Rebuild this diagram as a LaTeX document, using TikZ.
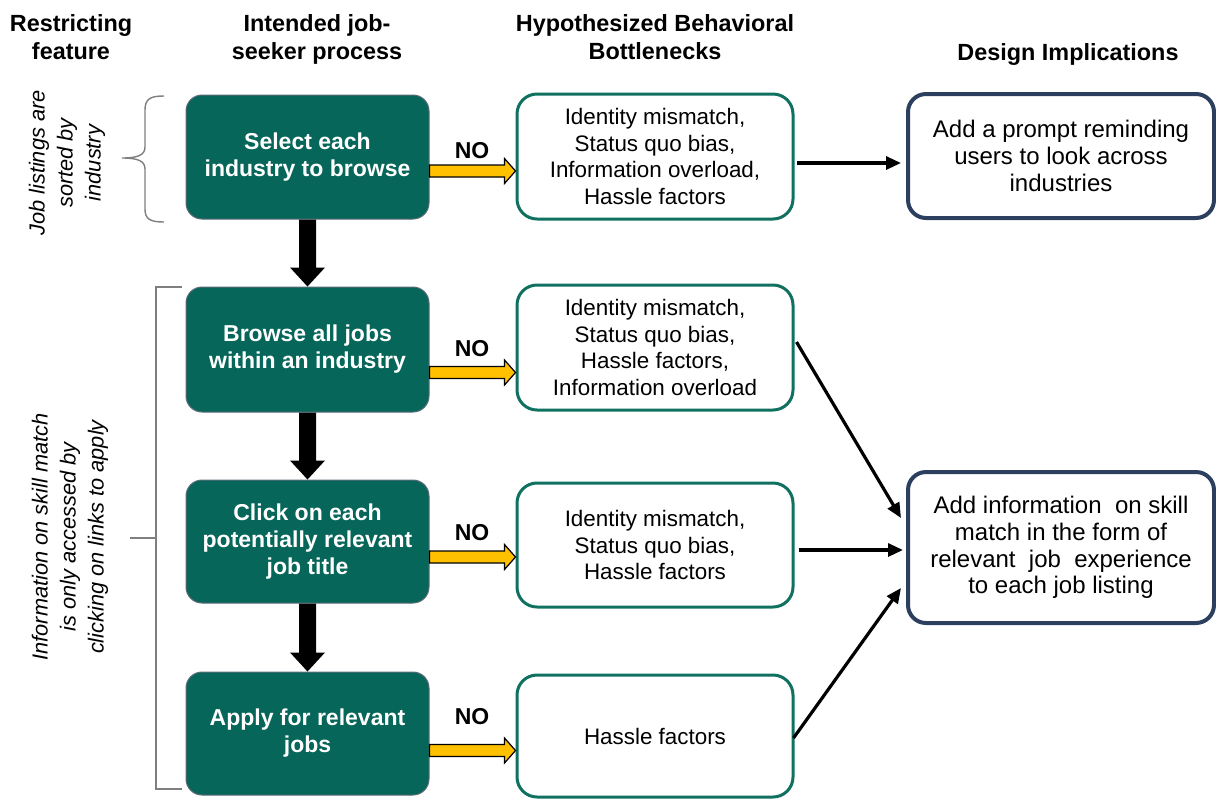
\documentclass[tikz,border=0pt]{standalone}
\usepackage{fontspec}
\setmainfont{Liberation Sans}
\usetikzlibrary{calc,arrows.meta}

\definecolor{procgreen}{HTML}{07665A}
\definecolor{procedge}{HTML}{5B6B78}
\definecolor{bneck}{HTML}{107161}
\definecolor{navy}{HTML}{2C3F5E}
\definecolor{yarrow}{HTML}{FFC000}
\definecolor{bracegray}{HTML}{7F7F7F}

% yellow "NO" block arrow from #1 to the tip #2
\newcommand\noarrow[2]{%
  \filldraw[fill=yarrow, draw=black, line width=0.6pt, line join=miter]
    ($(#1)+(0,-6)$) -- ($(#2)+(-11,-6)$) -- ($(#2)+(-11,-12.5)$) -- (#2)
    -- ($(#2)+(-11,12.5)$) -- ($(#2)+(-11,6)$) -- ($(#1)+(0,6)$) -- cycle;}
% thick black block arrow pointing down from #1 to the tip #2
\newcommand\flowarrow[2]{%
  \fill ($(#1)+(-8.5,0)$) -- ($(#2)+(-8.5,-19)$) -- ($(#2)+(-17.5,-19)$) -- (#2)
    -- ($(#2)+(17.5,-19)$) -- ($(#2)+(8.5,-19)$) -- ($(#1)+(8.5,0)$) -- cycle;}

\begin{document}
\begin{tikzpicture}[x=0.5pt,y=-0.5pt,
  head/.style={font=\fontsize{11.7}{14}\selectfont\bfseries, align=center, anchor=base, inner sep=0pt},
  proc/.style={rectangle, rounded corners=8pt, fill=procgreen, draw=procedge, line width=0.5pt,
    text=white, font=\fontsize{11.5}{13.5}\selectfont\bfseries, align=center,
    minimum width=121.5pt, inner sep=0pt},
  neck/.style={rectangle, rounded corners=10pt, draw=bneck, line width=1.5pt, fill=white,
    font=\fontsize{11.2}{13.3}\selectfont, align=center, minimum width=138pt, inner sep=0pt},
  design/.style={rectangle, rounded corners=9pt, draw=navy, line width=2pt, fill=white,
    font=\fontsize{12}{13.3}\selectfont, align=center, minimum width=153pt, inner sep=0pt},
  nolabel/.style={font=\fontsize{11.5}{13.5}\selectfont\bfseries, inner sep=0pt},
  feature/.style={font=\fontsize{10.9}{14}\selectfont\itshape, align=center, rotate=90, inner sep=0pt},
  link/.style={line width=1.6pt, -{Triangle[length=7.5pt,width=6.5pt]}},
  brk/.style={draw=bracegray, line width=0.7pt}]

\useasboundingbox (0,0) rectangle (1216,800);

% column headings (baseline of the last line)
\node[head] (h1) at (71,59) {Restricting\\feature};
\node[head] (h2) at (317,59) {Intended job-\\seeker process};
\node[head] (h3) at (655,59) {Hypothesized Behavioral\\Bottlenecks};
\node[head] (h4) at (1068,60) {Design Implications};

% intended process steps
\node[proc, minimum height=62pt]   (g1) at (307.5,157)   {Select each\\industry to browse};
\node[proc, minimum height=62.5pt] (g2) at (307.5,349.5) {Browse all jobs\\within an industry};
\node[proc, minimum height=61.5pt] (g3) at (307.5,541.5) {Click on each\\potentially relevant\\job title};
\node[proc, minimum height=61.5pt] (g4) at (307.5,733.5) {Apply for relevant\\jobs};

% bottlenecks
\node[neck, minimum height=62.5pt] (b1) at (655,156.5) {Identity mismatch,\\Status quo bias,\\Information overload,\\Hassle factors};
\node[neck, minimum height=62.5pt] (b2) at (655,347.5) {Identity mismatch,\\Status quo bias,\\Hassle factors,\\Information overload};
\node[neck, minimum height=62pt]   (b3) at (655,545)   {Identity mismatch,\\Status quo bias,\\Hassle factors};
\node[neck, minimum height=61pt]   (b4) at (655,736)   {Hassle factors};

% design implications
\node[design, minimum height=62pt]   (d1) at (1061,156)   {Add a prompt reminding\\users to look across\\industries};
\node[design, minimum height=75.5pt] (d2) at (1061,547.5)
  {Add information~ on skill\\match in the form of\\relevant~ job~ experience\\to each job listing};

% flow between steps
\flowarrow{g1.south}{g2.north}
\flowarrow{g2.south}{g3.north}
\flowarrow{g3.south}{g4.north}

% "NO" branches
\coordinate (r1) at (0,171);
\coordinate (r2) at (0,372.5);
\coordinate (r3) at (0,557);
\coordinate (r4) at (0,750.5);
\noarrow{g1.east |- r1}{b1.west |- r1}
\noarrow{g2.east |- r2}{b2.west |- r2}
\noarrow{g3.east |- r3}{b3.west |- r3}
\noarrow{g4.east |- r4}{b4.west |- r4}
\node[nolabel] (no1) at (472,151) {NO};
\node[nolabel] (no2) at (472,349) {NO};
\node[nolabel] (no3) at (472,533) {NO};
\node[nolabel] (no4) at (472,717) {NO};

% bottlenecks to design implications
\draw[link] ([shift={(1pt,-3.25pt)}]b1.east) -- ([shift={(-2.5pt,-3.5pt)}]d1.west);
\draw[link] ([shift={(1pt,2.75pt)}]b2.east) -- ([shift={(-2.5pt,14.75pt)}]d2.west);
\draw[link] ([shift={(2pt,-2.5pt)}]b3.east) -- ([shift={(-1.5pt,-1.25pt)}]d2.west);
\draw[link] ([shift={(-0.5pt,-1pt)}]b4.east) -- ([shift={(-2.5pt,-20.25pt)}]d2.west);

% restricting features
\node[feature] (f1) at (67,163) {Job listings are\\sorted by\\industry};
\node[feature] (f2) at (70,537) {Information on skill match\\is only accessed by\\clicking on links to apply};

% curly brace for the first step
\draw[brk] (164,96) .. controls (150,96) and (145,99) .. (145,110) -- (145,147)
  .. controls (145,155) and (138,158) .. (122,158)
  .. controls (138,158) and (145,161) .. (145,169) -- (145,209)
  .. controls (145,219) and (150,222) .. (164,222);
% square bracket for the remaining steps
\draw[brk] (182,287) -- (156,287) -- (156,789) -- (182,789);
\draw[brk] (130,538) -- (156,538);

\end{tikzpicture}
\end{document}
